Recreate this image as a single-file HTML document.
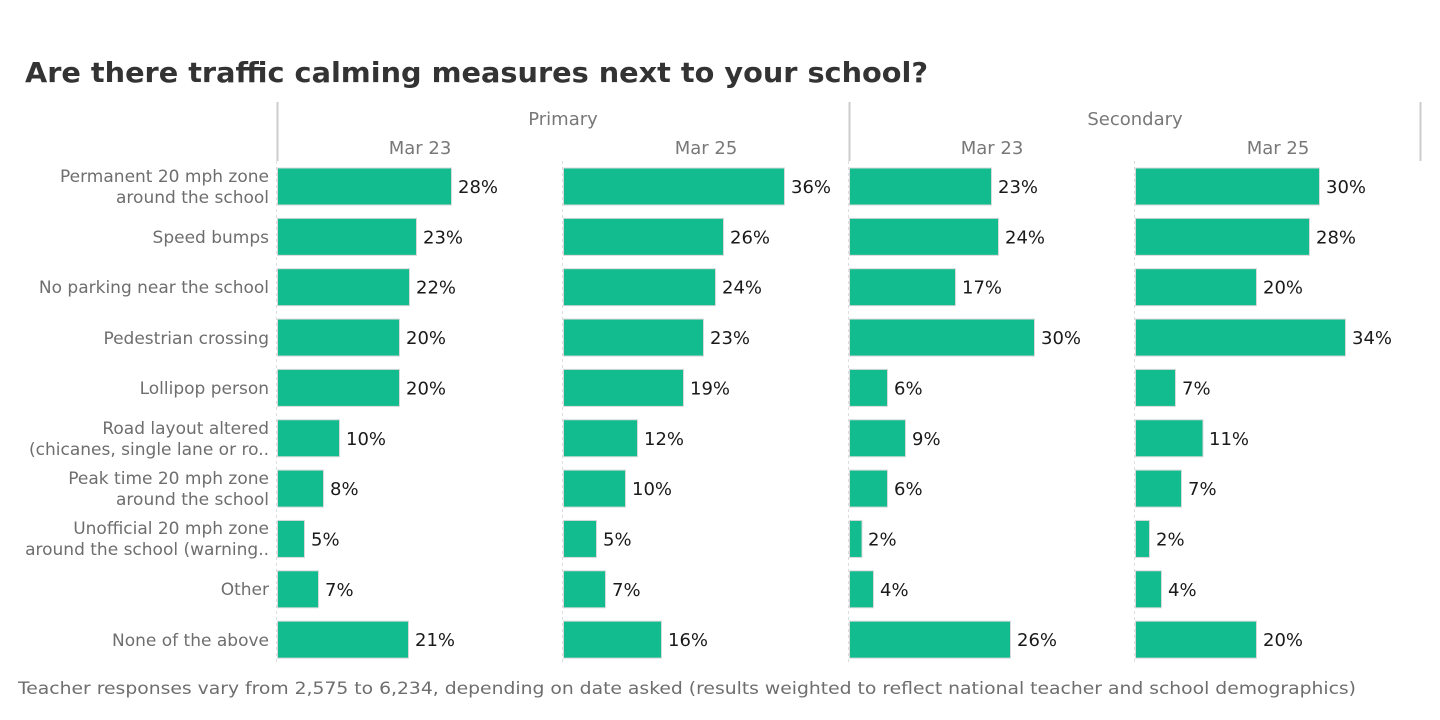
<!DOCTYPE html>
<html>
<head>
<meta charset="utf-8">
<style>
  html, body { margin: 0; padding: 0; background: #ffffff; }
  svg { display: block; }
  text { font-family: "DejaVu Sans", "Liberation Sans", sans-serif; }
  .cat { font-size: 17px; fill: #6e6e6e; text-anchor: end; }
  .val { font-size: 18px; fill: #1a1a1a; }
  .hdr { font-size: 18px; fill: #787878; text-anchor: middle; }
  .bar { fill: #13bc8f; stroke: #d9d9d9; stroke-width: 1; }
</style>
</head>
<body>
<svg width="1440" height="720" viewBox="0 0 1440 720" xmlns="http://www.w3.org/2000/svg">
  <rect x="0" y="0" width="1440" height="720" fill="#ffffff"/>

  <!-- Title -->
  <text x="25" y="82" font-size="28" font-weight="bold" fill="#333333" textLength="903" lengthAdjust="spacingAndGlyphs">Are there traffic calming measures next to your school?</text>

  <!-- Header separators -->
  <line x1="277.5" y1="102" x2="277.5" y2="161" stroke="#cccccc" stroke-width="2"/>
  <line x1="849.5" y1="102" x2="849.5" y2="161" stroke="#cccccc" stroke-width="2"/>
  <line x1="1420.5" y1="102" x2="1420.5" y2="161" stroke="#cccccc" stroke-width="2"/>

  <!-- Header text -->
  <text class="hdr" x="563" y="125">Primary</text>
  <text class="hdr" x="1135" y="125">Secondary</text>
  <text class="hdr" x="420" y="154">Mar 23</text>
  <text class="hdr" x="706" y="154">Mar 25</text>
  <text class="hdr" x="992" y="154">Mar 23</text>
  <text class="hdr" x="1278" y="154">Mar 25</text>

  <!-- Dashed panel separators -->
  <g stroke="#dddddd" stroke-width="1" stroke-dasharray="3,3">
    <line x1="276.5" y1="161" x2="276.5" y2="662"/>
    <line x1="562.5" y1="161" x2="562.5" y2="662"/>
    <line x1="848.5" y1="161" x2="848.5" y2="662"/>
    <line x1="1134.5" y1="161" x2="1134.5" y2="662"/>
  </g>

  <!-- Category labels -->
  <text class="cat" x="269" y="182">Permanent 20 mph zone</text>
  <text class="cat" x="269" y="203">around the school</text>
  <text class="cat" x="269" y="243">Speed bumps</text>
  <text class="cat" x="269" y="293">No parking near the school</text>
  <text class="cat" x="269" y="344">Pedestrian crossing</text>
  <text class="cat" x="269" y="394">Lollipop person</text>
  <text class="cat" x="269" y="434">Road layout altered</text>
  <text class="cat" x="269" y="455">(chicanes, single lane or ro..</text>
  <text class="cat" x="269" y="484">Peak time 20 mph zone</text>
  <text class="cat" x="269" y="505">around the school</text>
  <text class="cat" x="269" y="534">Unofficial 20 mph zone</text>
  <text class="cat" x="269" y="555">around the school (warning..</text>
  <text class="cat" x="269" y="595">Other</text>
  <text class="cat" x="269" y="646">None of the above</text>

  <!-- Panel 1: Primary Mar 23 (origin 277) -->
  <g>
    <rect class="bar" x="277.5" y="168" width="174" height="37"/>
    <rect class="bar" x="277.5" y="218.35" width="139" height="37"/>
    <rect class="bar" x="277.5" y="268.7" width="132" height="37"/>
    <rect class="bar" x="277.5" y="319.05" width="122" height="37"/>
    <rect class="bar" x="277.5" y="369.4" width="122" height="37"/>
    <rect class="bar" x="277.5" y="419.75" width="62" height="37"/>
    <rect class="bar" x="277.5" y="470.1" width="46" height="37"/>
    <rect class="bar" x="277.5" y="520.45" width="27" height="37"/>
    <rect class="bar" x="277.5" y="570.8" width="41" height="37"/>
    <rect class="bar" x="277.5" y="621.15" width="131" height="37"/>
    <text class="val" x="458" y="193">28%</text>
    <text class="val" x="423" y="243.4">23%</text>
    <text class="val" x="416" y="293.7">22%</text>
    <text class="val" x="406" y="344.1">20%</text>
    <text class="val" x="406" y="394.4">20%</text>
    <text class="val" x="346" y="444.8">10%</text>
    <text class="val" x="330" y="495.1">8%</text>
    <text class="val" x="311" y="545.5">5%</text>
    <text class="val" x="325" y="595.8">7%</text>
    <text class="val" x="415" y="646.2">21%</text>
  </g>

  <!-- Panel 2: Primary Mar 25 (origin 563) -->
  <g>
    <rect class="bar" x="563.5" y="168" width="221" height="37"/>
    <rect class="bar" x="563.5" y="218.35" width="160" height="37"/>
    <rect class="bar" x="563.5" y="268.7" width="152" height="37"/>
    <rect class="bar" x="563.5" y="319.05" width="140" height="37"/>
    <rect class="bar" x="563.5" y="369.4" width="120" height="37"/>
    <rect class="bar" x="563.5" y="419.75" width="74" height="37"/>
    <rect class="bar" x="563.5" y="470.1" width="62" height="37"/>
    <rect class="bar" x="563.5" y="520.45" width="33" height="37"/>
    <rect class="bar" x="563.5" y="570.8" width="42" height="37"/>
    <rect class="bar" x="563.5" y="621.15" width="98" height="37"/>
    <text class="val" x="791" y="193">36%</text>
    <text class="val" x="730" y="243.4">26%</text>
    <text class="val" x="722" y="293.7">24%</text>
    <text class="val" x="710" y="344.1">23%</text>
    <text class="val" x="690" y="394.4">19%</text>
    <text class="val" x="644" y="444.8">12%</text>
    <text class="val" x="632" y="495.1">10%</text>
    <text class="val" x="603" y="545.5">5%</text>
    <text class="val" x="612" y="595.8">7%</text>
    <text class="val" x="668" y="646.2">16%</text>
  </g>

  <!-- Panel 3: Secondary Mar 23 (origin 849) -->
  <g>
    <rect class="bar" x="849.5" y="168" width="142" height="37"/>
    <rect class="bar" x="849.5" y="218.35" width="149" height="37"/>
    <rect class="bar" x="849.5" y="268.7" width="106" height="37"/>
    <rect class="bar" x="849.5" y="319.05" width="185" height="37"/>
    <rect class="bar" x="849.5" y="369.4" width="38" height="37"/>
    <rect class="bar" x="849.5" y="419.75" width="56" height="37"/>
    <rect class="bar" x="849.5" y="470.1" width="38" height="37"/>
    <rect class="bar" x="849.5" y="520.45" width="12.5" height="37"/>
    <rect class="bar" x="849.5" y="570.8" width="24" height="37"/>
    <rect class="bar" x="849.5" y="621.15" width="161" height="37"/>
    <text class="val" x="998" y="193">23%</text>
    <text class="val" x="1005" y="243.4">24%</text>
    <text class="val" x="962" y="293.7">17%</text>
    <text class="val" x="1041" y="344.1">30%</text>
    <text class="val" x="894" y="394.4">6%</text>
    <text class="val" x="912" y="444.8">9%</text>
    <text class="val" x="894" y="495.1">6%</text>
    <text class="val" x="868" y="545.5">2%</text>
    <text class="val" x="880" y="595.8">4%</text>
    <text class="val" x="1017" y="646.2">26%</text>
  </g>

  <!-- Panel 4: Secondary Mar 25 (origin 1135) -->
  <g>
    <rect class="bar" x="1135.5" y="168" width="184" height="37"/>
    <rect class="bar" x="1135.5" y="218.35" width="174" height="37"/>
    <rect class="bar" x="1135.5" y="268.7" width="121" height="37"/>
    <rect class="bar" x="1135.5" y="319.05" width="210" height="37"/>
    <rect class="bar" x="1135.5" y="369.4" width="40" height="37"/>
    <rect class="bar" x="1135.5" y="419.75" width="67.5" height="37"/>
    <rect class="bar" x="1135.5" y="470.1" width="46" height="37"/>
    <rect class="bar" x="1135.5" y="520.45" width="14" height="37"/>
    <rect class="bar" x="1135.5" y="570.8" width="26" height="37"/>
    <rect class="bar" x="1135.5" y="621.15" width="121" height="37"/>
    <text class="val" x="1326" y="193">30%</text>
    <text class="val" x="1316" y="243.4">28%</text>
    <text class="val" x="1263" y="293.7">20%</text>
    <text class="val" x="1352" y="344.1">34%</text>
    <text class="val" x="1182" y="394.4">7%</text>
    <text class="val" x="1209" y="444.8">11%</text>
    <text class="val" x="1188" y="495.1">7%</text>
    <text class="val" x="1156" y="545.5">2%</text>
    <text class="val" x="1168" y="595.8">4%</text>
    <text class="val" x="1263" y="646.2">20%</text>
  </g>

  <!-- Footer -->
  <text x="18" y="694" font-size="17" fill="#6e6e6e" textLength="1338" lengthAdjust="spacingAndGlyphs">Teacher responses vary from 2,575 to 6,234, depending on date asked (results weighted to reflect national teacher and school demographics)</text>
</svg>
</body>
</html>
